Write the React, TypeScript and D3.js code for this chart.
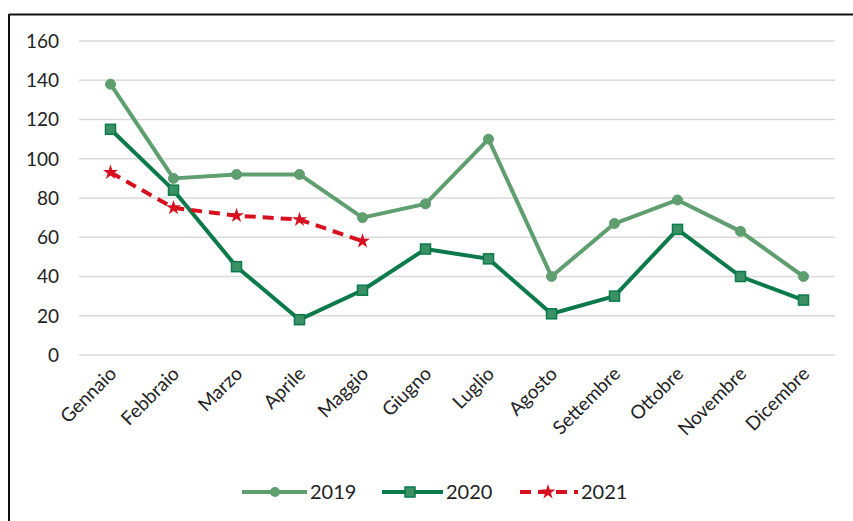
import React from "react";
import * as d3 from "d3";

const months = ["Gennaio","Febbraio","Marzo","Aprile","Maggio","Giugno","Luglio","Agosto","Settembre","Ottobre","Novembre","Dicembre"];
const v2019 = [138, 90, 92, 92, 70, 77, 110, 40, 67, 79, 63, 40];
const v2020 = [115, 84, 45, 18, 33, 54, 49, 21, 30, 64, 40, 28];
const v2021 = [93, 75, 71, 69, 58];
const yTicks = [0, 20, 40, 60, 80, 100, 120, 140, 160];

const W = 853, H = 521;
const FONT = "Lato, 'Open Sans', sans-serif";

export default function App() {
  const x = d3.scaleBand<string>().domain(months).range([79, 835]);
  const y = d3.scaleLinear().domain([0, 160]).range([355, 41]);
  const cx = (m: string) => (x(m) as number) + x.bandwidth() / 2;
  const line = d3.line<[string, number]>().x(d => cx(d[0])).y(d => y(d[1]));
  const s19 = months.map((m, i) => [m, v2019[i]] as [string, number]);
  const s20 = months.map((m, i) => [m, v2020[i]] as [string, number]);
  const s21 = v2021.map((v, i) => [months[i], v] as [string, number]);
  const c19 = "#5f9e6e", c20 = "#0b7a4b", c21 = "#d6101f";
  const star = d3.symbol().type(d3.symbolStar).size(70)();
  return (
    <svg width={W} height={H} style={{ position: "absolute", left: 0, top: 0 }} fontFamily={FONT}>
      <rect x={0} y={0} width={W} height={H} fill="#fff" />
      <line x1={9} x2={W} y1={14.5} y2={14.5} stroke="#111" strokeWidth={2} />
      <line x1={9} x2={9} y1={14} y2={H} stroke="#111" strokeWidth={2} />
      {yTicks.map(t => (
        <g key={t}>
          <line x1={79} x2={835} y1={y(t)} y2={y(t)} stroke="#d9d9d9" strokeWidth={1.5} />
          <text x={59} y={y(t)} dy="0.36em" textAnchor="end" fontSize={19} fill="#222">{t}</text>
        </g>
      ))}
      {months.map(m => (
        <text key={m} transform={`translate(${cx(m) + 7},${y(0) + 20}) rotate(-45)`} textAnchor="end" fontSize={19} fill="#222">{m}</text>
      ))}
      <path d={line(s19) || ""} fill="none" stroke={c19} strokeWidth={4} strokeLinejoin="round" />
      {s19.map(d => <circle key={d[0]} cx={cx(d[0])} cy={y(d[1])} r={5} fill={c19} stroke={c19} />)}
      <path d={line(s20) || ""} fill="none" stroke={c20} strokeWidth={4} strokeLinejoin="round" />
      {s20.map(d => <rect key={d[0]} x={cx(d[0]) - 5} y={y(d[1]) - 5} width={10} height={10} fill="#3b9164" stroke={c20} strokeWidth={1.5} />)}
      <path d={line(s21) || ""} fill="none" stroke={c21} strokeWidth={4} strokeDasharray="11,7" />
      {s21.map(d => <path key={d[0]} d={star || ""} transform={`translate(${cx(d[0])},${y(d[1])})`} fill={c21} />)}
      <g fontSize={20} fill="#222">
        <line x1={242} x2={307} y1={492} y2={492} stroke={c19} strokeWidth={4} />
        <circle cx={275} cy={492} r={5} fill={c19} />
        <text x={310} y={492} dy="0.36em">2019</text>
        <line x1={382} x2={443} y1={492} y2={492} stroke={c20} strokeWidth={4} />
        <rect x={405} y={487} width={10} height={10} fill="#3b9164" stroke={c20} strokeWidth={1.5} />
        <text x={446} y={492} dy="0.36em">2020</text>
        <line x1={520} x2={578} y1={492} y2={492} stroke={c21} strokeWidth={4} strokeDasharray="11,7" />
        <path d={star || ""} transform="translate(548,492)" fill={c21} />
        <text x={581} y={492} dy="0.36em">2021</text>
      </g>
    </svg>
  );
}
